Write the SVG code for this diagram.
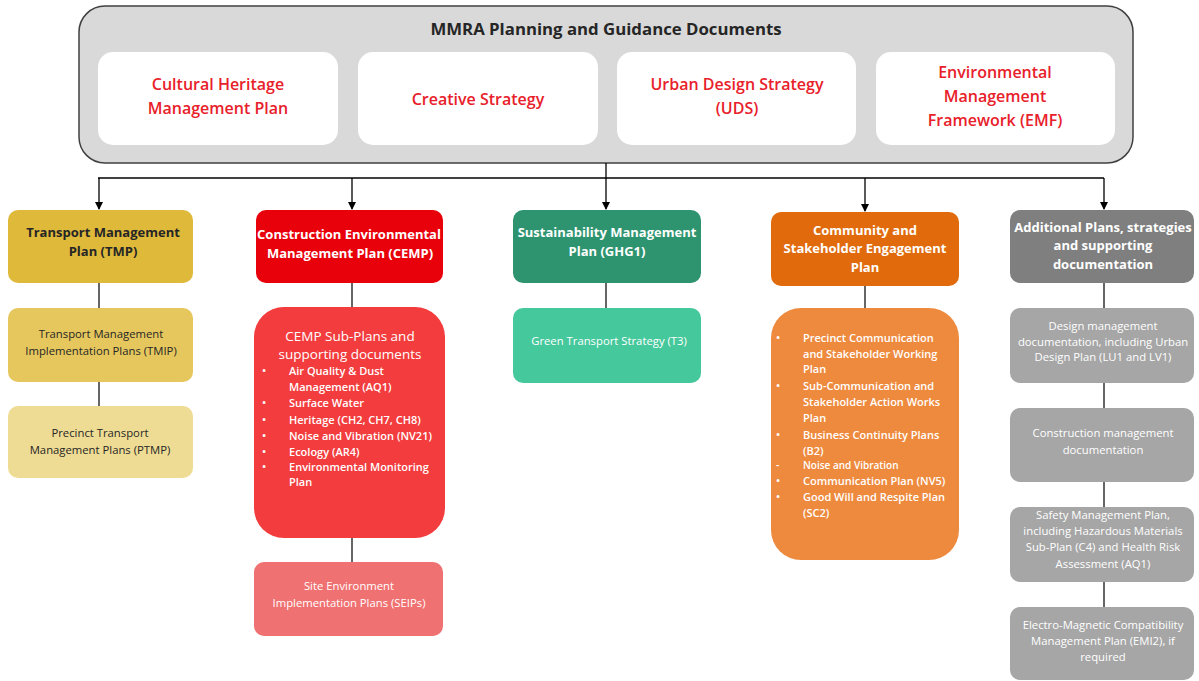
<svg xmlns="http://www.w3.org/2000/svg" width="1199" height="681" viewBox="0 0 1199 681">
<defs>
<marker id="arr" markerWidth="8" markerHeight="8" refX="7" refY="4" orient="auto" markerUnits="userSpaceOnUse">
<path d="M0,0 L8,4 L0,8 Z" fill="#000"/>
</marker>
<style>
text{font-family:"Open Sans","Noto Sans","Liberation Sans",sans-serif;text-anchor:middle}
.title{font-size:16.8px;font-weight:700;fill:#262626}
.red{font-size:16px;font-weight:600;fill:#e8202a}
.h{font-size:13px;font-weight:700}
.w{fill:#fff}
.d{fill:#262626}
.s{font-size:11.3px}
.b{font-size:11px;font-weight:600;fill:#fff;text-anchor:start}
.c{stroke:#000;stroke-width:1.3;fill:none}
.l{stroke:#333;stroke-width:1.5;fill:none}
</style>
</defs>
<rect width="1199" height="681" fill="#fff"/>

<g id="mmra">
<rect x="79" y="6" width="1054" height="157" rx="26" fill="#d9d9d9" stroke="#404040" stroke-width="1.5"/>
<text class="title" x="606" y="35">MMRA Planning and Guidance Documents</text>
</g>
<g id="chmp">
<rect x="98" y="52" width="240" height="93" rx="15" fill="#fff"/>
<text class="red" x="218" y="90">Cultural Heritage</text>
<text class="red" x="218" y="114">Management Plan</text>
</g>
<g id="creative">
<rect x="358" y="52" width="240" height="93" rx="15" fill="#fff"/>
<text class="red" x="478" y="105">Creative Strategy</text>
</g>
<g id="uds">
<rect x="617" y="52" width="239" height="93" rx="15" fill="#fff"/>
<text class="red" x="737" y="90">Urban Design Strategy</text>
<text class="red" x="737" y="114">(UDS)</text>
</g>
<g id="emf">
<rect x="876" y="52" width="239" height="93" rx="15" fill="#fff"/>
<text class="red" x="995" y="78">Environmental</text>
<text class="red" x="995" y="102">Management</text>
<text class="red" x="995" y="126">Framework (EMF)</text>
</g>

<g id="connectors">
<line class="c" x1="606" y1="163" x2="606" y2="178"/>
<line class="c" x1="98" y1="178" x2="1104" y2="178"/>
<line class="c" x1="99" y1="178" x2="99" y2="209" marker-end="url(#arr)"/>
<line class="c" x1="352" y1="178" x2="352" y2="209" marker-end="url(#arr)"/>
<line class="c" x1="606" y1="178" x2="606" y2="209" marker-end="url(#arr)"/>
<line class="c" x1="865" y1="178" x2="865" y2="211" marker-end="url(#arr)"/>
<line class="c" x1="1104" y1="178" x2="1104" y2="209" marker-end="url(#arr)"/>
<line class="l" x1="99" y1="283" x2="99" y2="308"/>
<line class="l" x1="99" y1="382" x2="99" y2="406"/>
<line class="l" x1="352" y1="283" x2="352" y2="307"/>
<line class="l" x1="352" y1="538" x2="352" y2="562"/>
<line class="l" x1="606" y1="283" x2="606" y2="308"/>
<line class="l" x1="865" y1="286" x2="865" y2="308"/>
<line class="l" x1="1104" y1="283" x2="1104" y2="308"/>
<line class="l" x1="1104" y1="383" x2="1104" y2="408"/>
<line class="l" x1="1104" y1="482" x2="1104" y2="507"/>
<line class="l" x1="1104" y1="582" x2="1104" y2="607"/>
</g>

<g id="tmp">
<rect x="8" y="210" width="185" height="73" rx="10" fill="#dfb93a"/>
<text class="h d" x="103" y="237">Transport Management</text>
<text class="h d" x="103" y="256">Plan (TMP)</text>
</g>
<g id="tmip">
<rect x="8" y="308" width="185" height="74" rx="10" fill="#e5c75d"/>
<text class="s d" x="101" y="338">Transport Management</text>
<text class="s d" x="101" y="355">Implementation Plans (TMIP)</text>
</g>
<g id="ptmp">
<rect x="8" y="406" width="185" height="72" rx="10" fill="#efdc94"/>
<text class="s d" x="100" y="437">Precinct Transport</text>
<text class="s d" x="100" y="454">Management Plans (PTMP)</text>
</g>

<g id="cemp">
<rect x="256" y="210" width="187" height="73" rx="10" fill="#e8000b"/>
<text class="h w" x="349" y="239">Construction Environmental</text>
<text class="h w" x="350" y="258">Management Plan (CEMP)</text>
</g>
<g id="cemp-sub">
<rect x="254" y="307" width="191" height="231" rx="30" fill="#f23c3d"/>
<text class="w" x="350" y="341" style="font-size:13.5px">CEMP Sub-Plans and</text>
<text class="w" x="350" y="359" style="font-size:13.5px">supporting documents</text>
<text class="b" x="262" y="375">•</text><text class="b" x="289" y="375">Air Quality &amp; Dust</text>
<text class="b" x="289" y="391">Management (AQ1)</text>
<text class="b" x="262" y="407">•</text><text class="b" x="289" y="407">Surface Water</text>
<text class="b" x="262" y="424">•</text><text class="b" x="289" y="424">Heritage (CH2, CH7, CH8)</text>
<text class="b" x="262" y="440">•</text><text class="b" x="289" y="440">Noise and Vibration (NV21)</text>
<text class="b" x="262" y="456">•</text><text class="b" x="289" y="456">Ecology (AR4)</text>
<text class="b" x="262" y="471">•</text><text class="b" x="289" y="471">Environmental Monitoring</text>
<text class="b" x="289" y="486">Plan</text>
</g>
<g id="seips">
<rect x="254" y="562" width="189" height="74" rx="10" fill="#f07171"/>
<text class="s w" x="349" y="590">Site Environment</text>
<text class="s w" x="349" y="607">Implementation Plans (SEIPs)</text>
</g>

<g id="ghg1">
<rect x="513" y="210" width="188" height="73" rx="10" fill="#2e9470"/>
<text class="h w" x="607" y="237">Sustainability Management</text>
<text class="h w" x="607" y="256">Plan (GHG1)</text>
</g>
<g id="t3">
<rect x="513" y="308" width="188" height="75" rx="10" fill="#45c89b"/>
<text class="s w" x="609" y="345">Green Transport Strategy (T3)</text>
</g>

<g id="cse">
<rect x="771" y="212" width="188" height="74" rx="10" fill="#e16b0c"/>
<text class="h w" x="865" y="235">Community and</text>
<text class="h w" x="865" y="253">Stakeholder Engagement</text>
<text class="h w" x="865" y="272">Plan</text>
</g>
<g id="cse-sub">
<rect x="771" y="308" width="188" height="252" rx="30" fill="#ee8a3d"/>
<text class="b" x="776" y="342">•</text><text class="b" x="803" y="342">Precinct Communication</text>
<text class="b" x="803" y="358">and Stakeholder Working</text>
<text class="b" x="803" y="373">Plan</text>
<text class="b" x="776" y="390">•</text><text class="b" x="803" y="390">Sub-Communication and</text>
<text class="b" x="803" y="406">Stakeholder Action Works</text>
<text class="b" x="803" y="422">Plan</text>
<text class="b" x="776" y="439">•</text><text class="b" x="803" y="439">Business Continuity Plans</text>
<text class="b" x="803" y="455">(B2)</text>
<text class="b" x="776" y="469" style="font-size:10px">-</text><text class="b" x="803" y="469" style="font-size:10px">Noise and Vibration</text>
<text class="b" x="776" y="485">•</text><text class="b" x="803" y="485">Communication Plan (NV5)</text>
<text class="b" x="776" y="501">•</text><text class="b" x="803" y="501">Good Will and Respite Plan</text>
<text class="b" x="803" y="517">(SC2)</text>
</g>

<g id="additional">
<rect x="1010" y="210" width="184" height="73" rx="10" fill="#7f7f7f"/>
<text class="h w" x="1103" y="232">Additional Plans, strategies</text>
<text class="h w" x="1103" y="250">and supporting</text>
<text class="h w" x="1103" y="269">documentation</text>
</g>
<g id="design">
<rect x="1010" y="308" width="184" height="75" rx="10" fill="#a6a6a6"/>
<text class="s w" x="1103" y="330">Design management</text>
<text class="s w" x="1103" y="346">documentation, including Urban</text>
<text class="s w" x="1103" y="361">Design Plan (LU1 and LV1)</text>
</g>
<g id="construction">
<rect x="1010" y="408" width="184" height="74" rx="10" fill="#a6a6a6"/>
<text class="s w" x="1103" y="437">Construction management</text>
<text class="s w" x="1103" y="454">documentation</text>
</g>
<g id="safety">
<rect x="1010" y="507" width="184" height="75" rx="10" fill="#a6a6a6"/>
<text class="s w" x="1103" y="519">Safety Management Plan,</text>
<text class="s w" x="1103" y="535">including Hazardous Materials</text>
<text class="s w" x="1103" y="551">Sub-Plan (C4) and Health Risk</text>
<text class="s w" x="1103" y="568">Assessment (AQ1)</text>
</g>
<g id="emc">
<rect x="1010" y="607" width="184" height="73" rx="10" fill="#a6a6a6"/>
<text class="s w" x="1103" y="629">Electro-Magnetic Compatibility</text>
<text class="s w" x="1103" y="645">Management Plan (EMI2), if</text>
<text class="s w" x="1103" y="661">required</text>
</g>
</svg>
